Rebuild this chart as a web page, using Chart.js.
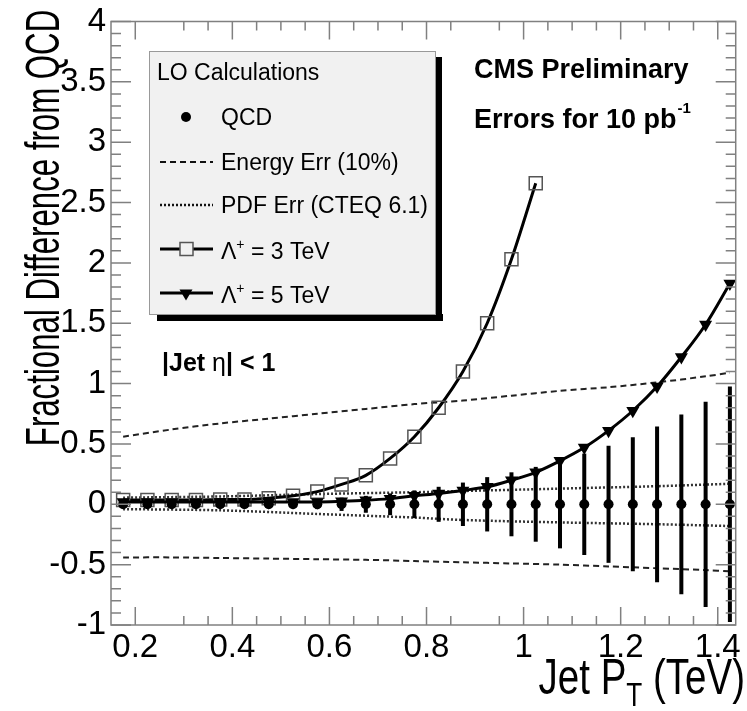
<!DOCTYPE html>
<html>
<head>
<meta charset="utf-8">
<script src="https://cdn.jsdelivr.net/npm/chart.js@4.4.0/dist/chart.umd.min.js"></script>
<style>
    html, body { margin: 0; padding: 0; background: #fff; }
</style>
</head>
<body>
<canvas id="myChart" width="747" height="711"></canvas>
<script>
//Chart data
///Jet pT bin centres (TeV)
var ptBins = [0.175, 0.225, 0.275, 0.325, 0.375, 0.425, 0.475, 0.525, 0.575, 0.625, 0.675, 0.725, 0.775,
              0.825, 0.875, 0.925, 0.975, 1.025, 1.075, 1.125, 1.175, 1.225, 1.275, 1.325, 1.375, 1.425];

///QCD points sit on zero, with statistical errors for 10 pb-1
var qcdValues = [0, 0, 0, 0, 0, 0, 0, 0, 0, 0, 0, 0, 0, 0, 0, 0, 0, 0, 0, 0, 0, 0, 0, 0, 0, 0];
var qcdErrors = [0.015, 0.015, 0.016, 0.018, 0.02, 0.022, 0.026, 0.032, 0.04, 0.055, 0.07, 0.09, 0.115,
                 0.145, 0.18, 0.225, 0.265, 0.31, 0.365, 0.42, 0.485, 0.555, 0.645, 0.745, 0.85, 0.975];

///Contact interaction, Lambda+ = 3 TeV
var lambda3Pt = [0.175, 0.225, 0.275, 0.325, 0.375, 0.425, 0.475, 0.525, 0.575, 0.625, 0.675, 0.725,
                 0.775, 0.825, 0.875, 0.925, 0.975, 1.025];
var lambda3Values = [0.035, 0.035, 0.035, 0.035, 0.04, 0.04, 0.05, 0.07, 0.105, 0.165, 0.24, 0.38,
                     0.56, 0.8, 1.1, 1.5, 2.03, 2.66];

///Contact interaction, Lambda+ = 5 TeV
var lambda5Values = [0.02, 0.02, 0.02, 0.02, 0.02, 0.02, 0.02, 0.02, 0.02, 0.025, 0.033, 0.047, 0.07,
                     0.09, 0.115, 0.145, 0.2, 0.265, 0.36, 0.47, 0.61, 0.775, 0.975, 1.22, 1.49, 1.83];

///Energy scale error band (10%)
var energyPt = [0.175, 0.275, 0.375, 0.475, 0.575, 0.675, 0.775, 0.875, 0.975, 1.075, 1.175, 1.275, 1.375, 1.425];
var energyUp = [0.56, 0.62, 0.67, 0.71, 0.75, 0.79, 0.83, 0.86, 0.9, 0.94, 0.97, 1.01, 1.06, 1.09];
var energyDown = [-0.44, -0.44, -0.445, -0.45, -0.455, -0.46, -0.47, -0.48, -0.49, -0.5, -0.515, -0.53, -0.545, -0.555];

///PDF error band (CTEQ 6.1)
var pdfPt = [0.175, 0.375, 0.575, 0.775, 0.875, 1.075, 1.275, 1.425];
var pdfUp = [0.055, 0.065, 0.085, 0.1, 0.11, 0.13, 0.15, 0.17];
var pdfDown = [-0.04, -0.05, -0.08, -0.11, -0.13, -0.15, -0.165, -0.18];

///Axis ticks and labels
var xTickValues = [0.2, 0.4, 0.6, 0.8, 1.0, 1.2, 1.4];
var xTickLabels = ["0.2", "0.4", "0.6", "0.8", "1", "1.2", "1.4"];
var yTickValues = [-1, -0.5, 0, 0.5, 1, 1.5, 2, 2.5, 3, 3.5, 4];
var yTickLabels = ["-1", "-0.5", "0", "0.5", "1", "1.5", "2", "2.5", "3", "3.5", "4"];

///Legend and annotation texts
var legendTitle = "LO Calculations";
var seriesNames = ["QCD", "Energy Err (10%)", "PDF Err (CTEQ 6.1)", "\u039B", "\u039B"];
var lambdaLabels = [" = 3 TeV", " = 5 TeV"];

var FONT = "'Liberation Sans', Arial, Helvetica, sans-serif";

//Builds a list of {x, y} points from two arrays
function toPoints(xs, ys) {
    var points = [];
    for (var i = 0; i < xs.length; i++) {
        points.push({ x: xs[i], y: ys[i] });
    }
    return points;
}

//Draws a text stretched/squeezed along its own direction
function scaledText(ctx, text, x, y, font, sx) {
    ctx.save();
    ctx.translate(x, y);
    ctx.scale(sx, 1);
    ctx.font = font;
    ctx.fillText(text, 0, 0);
    ctx.restore();
}

//White page behind the chart
var backgroundPlugin = {
    id: "background",
    beforeDraw: function (chart) {
        var ctx = chart.ctx;
        ctx.save();
        ctx.fillStyle = "#ffffff";
        ctx.fillRect(0, 0, chart.width, chart.height);
        ctx.restore();
    }
};

//Vertical error bars on the QCD points
var errorBarPlugin = {
    id: "errorBars",
    afterDatasetsDraw: function (chart) {
        var ctx = chart.ctx;
        var xs = chart.scales.x;
        var ys = chart.scales.y;
        ctx.save();
        ctx.strokeStyle = "#000";
        ctx.lineWidth = 4;
        for (var i = 0; i < ptBins.length; i++) {
            var px = xs.getPixelForValue(ptBins[i]);
            ctx.beginPath();
            ctx.moveTo(px, ys.getPixelForValue(qcdValues[i] - qcdErrors[i]));
            ctx.lineTo(px, ys.getPixelForValue(qcdValues[i] + qcdErrors[i]));
            ctx.stroke();
        }
        ctx.restore();
    }
};

//ROOT style frame with ticks pointing inwards on all four sides
var frameTicksPlugin = {
    id: "frameTicks",
    afterDatasetsDraw: function (chart) {
        var ctx = chart.ctx;
        var a = chart.chartArea;
        var xs = chart.scales.x;
        var ys = chart.scales.y;
        ctx.save();
        ctx.strokeStyle = "#808080";
        ctx.lineWidth = 1.5;
        ctx.strokeRect(a.left, a.top, a.right - a.left, a.bottom - a.top);

        ctx.beginPath();
        for (var k = 4; k <= 28; k++) {
            var v = k * 0.05;
            if (k == 5 || k == 18) continue; ///these two minor ticks are absent in the original
            var major = (k % 4 == 0);
            var len = major ? 18 : 9;
            var px = xs.getPixelForValue(v);
            ctx.moveTo(px, a.bottom);
            ctx.lineTo(px, a.bottom - len);
            ctx.moveTo(px, a.top);
            ctx.lineTo(px, a.top + len);
        }
        for (var j = -10; j <= 40; j++) {
            var vy = j * 0.1;
            var majorY = (j % 5 == 0);
            var leny = majorY ? 20 : 10;
            var py = ys.getPixelForValue(vy);
            ctx.moveTo(a.left, py);
            ctx.lineTo(a.left + leny, py);
            ctx.moveTo(a.right, py);
            ctx.lineTo(a.right - leny, py);
        }
        ctx.stroke();
        ctx.restore();
    }
};

//Axis titles, labels and the legend box
var textPlugin = {
    id: "texts",
    afterDraw: function (chart) {
        var ctx = chart.ctx;
        ctx.save();
        ctx.fillStyle = "#000";
        ctx.textBaseline = "alphabetic";

        ///Y title, rotated
        ctx.save();
        ctx.translate(59, 228);
        ctx.rotate(-Math.PI / 2);
        ctx.scale(0.65, 1);
        ctx.font = "48px " + FONT;
        ctx.textAlign = "center";
        ctx.fillText("Fractional Difference from QCD", 0, 0);
        ctx.restore();

        ///X title with subscript, right aligned
        ctx.textAlign = "left";
        var sx = 0.77;
        ctx.font = "50px " + FONT;
        var w1 = ctx.measureText("Jet P").width * sx;
        var w3 = ctx.measureText(" (TeV)").width * sx;
        ctx.font = "34px " + FONT;
        var w2 = ctx.measureText("T").width * sx;
        var x0 = 745 - (w1 + w2 + w3);
        scaledText(ctx, "Jet P", x0, 694, "50px " + FONT, sx);
        scaledText(ctx, "T", x0 + w1, 706, "34px " + FONT, sx);
        scaledText(ctx, " (TeV)", x0 + w1 + w2, 694, "50px " + FONT, sx);

        ///CMS labels
        ctx.font = "bold 27px " + FONT;
        ctx.fillText("CMS Preliminary", 474, 78);
        ctx.fillText("Errors for 10 pb", 474, 128);
        var wErr = ctx.measureText("Errors for 10 pb").width;
        ctx.font = "bold 15px " + FONT;
        ctx.fillText("-1", 474 + wErr + 1, 113);

        ///|Jet eta| < 1
        ctx.font = "bold 25px " + FONT;
        ctx.fillText("|Jet ", 162, 371);
        var wj = ctx.measureText("|Jet ").width;
        ctx.font = "25px " + FONT;
        ctx.fillText("\u03B7", 162 + wj, 371);
        var we = ctx.measureText("\u03B7").width;
        ctx.font = "bold 25px " + FONT;
        ctx.fillText("| < 1", 162 + wj + we, 371);

        ///Legend box with shadow
        var L = 149, T = 51, R = 435, B = 314;
        ctx.fillStyle = "#000";
        ctx.fillRect(L + 8, B, R - L, 7);
        ctx.fillRect(R, T + 6, 7, B - T + 1);
        ctx.fillStyle = "#f1f1f1";
        ctx.fillRect(L, T, R - L, B - T);
        ctx.strokeStyle = "#999";
        ctx.lineWidth = 1;
        ctx.strokeRect(L + 0.5, T + 0.5, R - L, B - T);

        ctx.fillStyle = "#000";
        ctx.font = "23px " + FONT;
        ctx.textBaseline = "middle";
        ctx.fillText(legendTitle, 157, 74);

        var rows = [117, 162, 205, 249, 293];
        var tx = 221;

        ///QCD dot
        ctx.beginPath();
        ctx.arc(186, rows[0], 5, 0, Math.PI * 2);
        ctx.fill();
        ctx.fillText(seriesNames[0], tx, rows[0] + 2);

        ///Energy dashed
        ctx.strokeStyle = "#111";
        ctx.lineWidth = 2;
        ctx.setLineDash([6, 4]);
        ctx.beginPath();
        ctx.moveTo(160, rows[1]);
        ctx.lineTo(213, rows[1]);
        ctx.stroke();
        ctx.fillText(seriesNames[1], tx, rows[1] + 2);

        ///PDF dotted
        ctx.setLineDash([2, 2]);
        ctx.lineWidth = 2.5;
        ctx.beginPath();
        ctx.moveTo(160, rows[2]);
        ctx.lineTo(213, rows[2]);
        ctx.stroke();
        ctx.fillText(seriesNames[2], tx, rows[2] + 2);
        ctx.setLineDash([]);

        ///Lambda rows
        for (var r = 0; r < 2; r++) {
            var ry = rows[3 + r];
            ctx.strokeStyle = "#000";
            ctx.lineWidth = 3;
            ctx.beginPath();
            ctx.moveTo(160, ry);
            ctx.lineTo(213, ry);
            ctx.stroke();
            if (r == 0) {
                ctx.fillStyle = "#f1f1f1";
                ctx.fillRect(180, ry - 6.5, 13, 13);
                ctx.strokeStyle = "#555";
                ctx.lineWidth = 1.5;
                ctx.strokeRect(180, ry - 6.5, 13, 13);
                ctx.fillStyle = "#000";
            } else {
                ctx.beginPath();
                ctx.moveTo(186 - 6.5, ry - 3.5);
                ctx.lineTo(186 + 6.5, ry - 3.5);
                ctx.lineTo(186, ry + 7.5);
                ctx.closePath();
                ctx.fill();
            }
            ctx.font = "23px " + FONT;
            ctx.fillText(seriesNames[3 + r], tx, ry + 4);
            var wl = ctx.measureText(seriesNames[3 + r]).width;
            ctx.font = "14px " + FONT;
            ctx.fillText("+", tx + wl, ry - 4);
            var wp = ctx.measureText("+").width;
            ctx.font = "23px " + FONT;
            ctx.fillText(lambdaLabels[r], tx + wl + wp, ry + 4);
        }
        ctx.restore();
    }
};

var chart = new Chart("myChart", {
    type: "scatter",
    data: {
        datasets: [{
                label: seriesNames[0],
                data: toPoints(ptBins, qcdValues),
                pointStyle: "circle",
                pointRadius: 5,
                backgroundColor: "#000",
                borderColor: "#000",
                borderWidth: 0,
                showLine: false
            }, {
                label: seriesNames[3] + "+ = 5 TeV",
                data: toPoints(ptBins, lambda5Values),
                pointStyle: "triangle",
                rotation: 180,
                pointRadius: 7.5,
                backgroundColor: "#000",
                borderColor: "#000",
                borderWidth: 3,
                pointBorderWidth: 0,
                showLine: true,
                cubicInterpolationMode: "monotone"
            }, {
                label: seriesNames[3] + "+ = 3 TeV",
                data: toPoints(lambda3Pt, lambda3Values),
                pointStyle: "rect",
                pointRadius: 9.2,
                pointBackgroundColor: "rgba(0,0,0,0)",
                pointBorderColor: "#555",
                pointBorderWidth: 1.5,
                borderColor: "#000",
                borderWidth: 3,
                showLine: true,
                cubicInterpolationMode: "monotone"
            }, {
                label: seriesNames[1],
                data: toPoints(energyPt, energyUp),
                borderColor: "#222",
                borderWidth: 2,
                borderDash: [6, 4],
                pointRadius: 0,
                showLine: true,
                tension: 0.3
            }, {
                label: seriesNames[1] + " down",
                data: toPoints(energyPt, energyDown),
                borderColor: "#222",
                borderWidth: 2,
                borderDash: [6, 4],
                pointRadius: 0,
                showLine: true,
                tension: 0.3
            }, {
                label: seriesNames[2],
                data: toPoints(pdfPt, pdfUp),
                borderColor: "#333",
                borderWidth: 2.5,
                borderDash: [2, 2],
                pointRadius: 0,
                showLine: true,
                tension: 0.3
            }, {
                label: seriesNames[2] + " down",
                data: toPoints(pdfPt, pdfDown),
                borderColor: "#333",
                borderWidth: 2.5,
                borderDash: [2, 2],
                pointRadius: 0,
                showLine: true,
                tension: 0.3
            }
        ]
    },
    options: {
        responsive: false,
        animation: false,
        events: [],
        devicePixelRatio: 1,
        layout: {
            padding: { top: 20, right: 9, left: 0, bottom: 0 }
        },
        plugins: {
            legend: { display: false },
            tooltip: { enabled: false },
            title: { display: false }
        },
        scales: {
            x: {
                type: "linear",
                min: 0.15,
                max: 1.437,
                grid: { display: false, drawTicks: false },
                border: { display: false },
                ticks: {
                    color: "#000",
                    font: { family: FONT, size: 33, lineHeight: 1 },
                    padding: 6,
                    maxRotation: 0,
                    autoSkip: false,
                    callback: function (value, index) { return xTickLabels[index]; }
                },
                afterBuildTicks: function (scale) {
                    scale.ticks = xTickValues.map(function (v) { return { value: v }; });
                },
                afterFit: function (scale) { scale.height = 86; }
            },
            y: {
                type: "linear",
                min: -1,
                max: 4,
                grid: { display: false, drawTicks: false },
                border: { display: false },
                ticks: {
                    color: "#000",
                    font: { family: FONT, size: 33, lineHeight: 1 },
                    padding: 5,
                    autoSkip: false,
                    callback: function (value, index) { return yTickLabels[index]; }
                },
                afterBuildTicks: function (scale) {
                    scale.ticks = yTickValues.map(function (v) { return { value: v }; });
                },
                afterFit: function (scale) { scale.width = 111; }
            }
        }
    },
    plugins: [backgroundPlugin, errorBarPlugin, frameTicksPlugin, textPlugin]
});
</script>
</body>
</html>
